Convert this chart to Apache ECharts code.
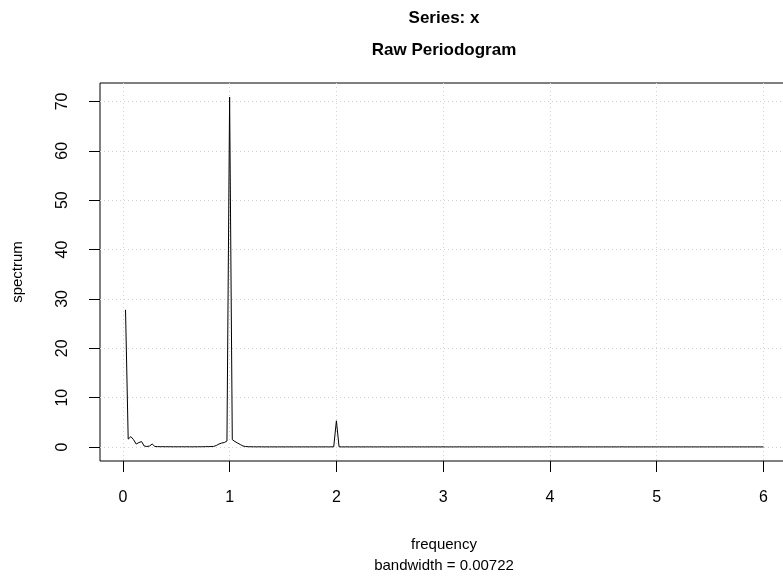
<!DOCTYPE html>
<html>
<head>
<meta charset="utf-8">
<script src="https://cdn.jsdelivr.net/npm/echarts@6/dist/echarts.min.js"></script>
<style>
  html, body { margin: 0; padding: 0; background: #fff; }
  #chart { width: 783px; height: 578px; }
</style>
</head>
<body>
<div id="chart"></div>
<script>
// Raw periodogram of a monthly series (n = 480, frequency step = 12/480)
const freqStep = 0.025;
const spectrumValues = [
  // 0.025 .. 0.500
  27.8, 1.6, 2.1, 1.5, 0.6, 0.9, 1.1, 0.2, 0.1, 0.2, 0.6, 0.1, 0.08, 0.06, 0.07, 0.05, 0.06, 0.05, 0.04, 0.05,
  // 0.525 .. 1.000
  0.04, 0.05, 0.04, 0.05, 0.04, 0.03, 0.05, 0.04, 0.06, 0.05, 0.07, 0.08, 0.09, 0.12, 0.3, 0.6, 0.8, 0.9, 1.2, 70.9,
  // 1.025 .. 1.500
  1.5, 1.1, 0.8, 0.5, 0.2, 0.1, 0.06, 0.05, 0.04, 0.03, 0.04, 0.03, 0.02, 0.03, 0.02, 0.03, 0.02, 0.02, 0.03, 0.02,
  // 1.525 .. 2.000
  0.02, 0.03, 0.02, 0.02, 0.03, 0.02, 0.02, 0.03, 0.02, 0.02, 0.03, 0.02, 0.02, 0.03, 0.02, 0.03, 0.02, 0.03, 0.04, 5.3,
  // 2.025 .. 2.500
  0.04, 0.02, 0.02, 0.03, 0.02, 0.02, 0.02, 0.03, 0.02, 0.02, 0.02, 0.03, 0.02, 0.02, 0.02, 0.02, 0.03, 0.02, 0.02, 0.02,
  // 2.525 .. 3.000
  0.02, 0.02, 0.03, 0.02, 0.02, 0.02, 0.02, 0.02, 0.03, 0.02, 0.02, 0.02, 0.02, 0.02, 0.02, 0.03, 0.02, 0.02, 0.02, 0.04,
  // 3.025 .. 3.500
  0.02, 0.02, 0.02, 0.02, 0.02, 0.03, 0.02, 0.02, 0.02, 0.02, 0.02, 0.02, 0.03, 0.02, 0.02, 0.02, 0.02, 0.02, 0.02, 0.02,
  // 3.525 .. 4.000
  0.02, 0.02, 0.02, 0.03, 0.02, 0.02, 0.02, 0.02, 0.02, 0.02, 0.02, 0.02, 0.02, 0.02, 0.03, 0.02, 0.02, 0.02, 0.02, 0.05,
  // 4.025 .. 4.500
  0.02, 0.02, 0.02, 0.02, 0.02, 0.02, 0.02, 0.02, 0.02, 0.03, 0.02, 0.02, 0.02, 0.02, 0.02, 0.02, 0.02, 0.02, 0.02, 0.02,
  // 4.525 .. 5.000
  0.02, 0.02, 0.02, 0.02, 0.02, 0.02, 0.03, 0.02, 0.02, 0.02, 0.02, 0.02, 0.02, 0.02, 0.02, 0.02, 0.02, 0.02, 0.02, 0.02,
  // 5.025 .. 5.500
  0.02, 0.02, 0.02, 0.02, 0.02, 0.02, 0.02, 0.02, 0.02, 0.02, 0.02, 0.02, 0.02, 0.02, 0.02, 0.02, 0.02, 0.02, 0.02, 0.02,
  // 5.525 .. 6.000
  0.02, 0.02, 0.02, 0.02, 0.02, 0.02, 0.02, 0.02, 0.02, 0.02, 0.02, 0.02, 0.02, 0.02, 0.02, 0.02, 0.02, 0.02, 0.02, 0.02
];
const xTicks = [0, 1, 2, 3, 4, 5, 6];
const yTicks = [0, 10, 20, 30, 40, 50, 60, 70];

const points = spectrumValues.map((v, i) => [+(freqStep * (i + 1)).toFixed(3), v]);

const FONT = '"Liberation Sans", Arial, Helvetica, sans-serif';
const chart = echarts.init(document.getElementById('chart'), null, { renderer: 'canvas' });

chart.setOption({
  animation: false,
  backgroundColor: '#ffffff',
  grid: {
    left: 100, top: 83, width: 689, height: 378,
    show: true, borderColor: '#000', borderWidth: 1, backgroundColor: 'transparent',
    containLabel: false,
    outerBoundsMode: 'none'
  },
  xAxis: {
    type: 'value',
    min: -0.214, max: 6.239,
    axisLine: { show: false, onZero: false },
    axisTick: { show: true, customValues: xTicks, length: 11, inside: false, lineStyle: { color: '#000', width: 1 } },
    axisLabel: { show: true, customValues: xTicks, margin: 29, color: '#000', fontSize: 16, fontFamily: FONT },
    splitLine: { show: true, lineStyle: { color: '#d3d3d3', type: [1, 3], width: 1 } }
  },
  yAxis: {
    type: 'value',
    min: -2.836, max: 73.74,
    axisLine: { show: false, onZero: false },
    axisTick: { show: true, customValues: yTicks, length: 11, inside: false, lineStyle: { color: '#000', width: 1 } },
    axisLabel: { show: true, customValues: yTicks, rotate: 90, margin: 29, color: '#000', fontSize: 16, fontFamily: FONT },
    splitLine: { show: true, lineStyle: { color: '#d3d3d3', type: [1, 3], width: 1 } }
  },
  series: [{
    type: 'line',
    data: points,
    showSymbol: false,
    symbol: 'none',
    lineStyle: { color: '#000', width: 1 },
    silent: true
  }],
  graphic: [
    { type: 'text', x: 444, y: 18, style: { text: 'Series: x', textAlign: 'center', textVerticalAlign: 'middle', font: 'bold 17px ' + FONT, fill: '#000' } },
    { type: 'text', x: 444, y: 50, style: { text: 'Raw Periodogram', textAlign: 'center', textVerticalAlign: 'middle', font: 'bold 17px ' + FONT, fill: '#000' } },
    { type: 'text', x: 444, y: 545, style: { text: 'frequency', textAlign: 'center', textVerticalAlign: 'middle', font: '15px ' + FONT, fill: '#000' } },
    { type: 'text', x: 444, y: 566, style: { text: 'bandwidth = 0.00722', textAlign: 'center', textVerticalAlign: 'middle', font: '15px ' + FONT, fill: '#000' } },
    { type: 'text', x: 18, y: 272, rotation: Math.PI / 2, style: { text: 'spectrum', textAlign: 'center', textVerticalAlign: 'middle', font: '15px ' + FONT, fill: '#000' } }
  ]
});
</script>
</body>
</html>
